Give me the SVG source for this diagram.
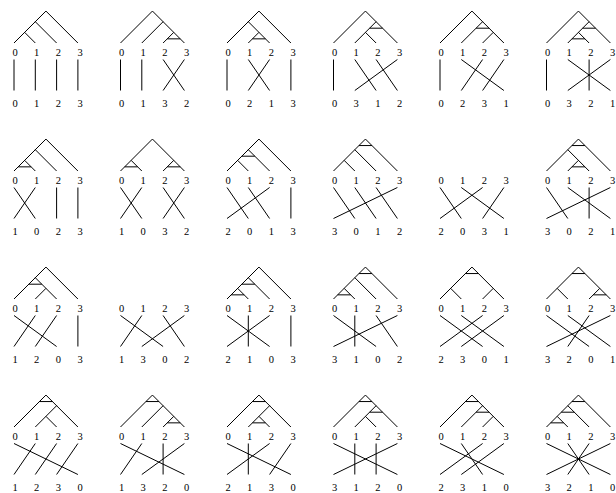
<svg xmlns="http://www.w3.org/2000/svg" width="616" height="493" viewBox="0 0 616 493">
<style>
.t{fill:none;stroke:#000;stroke-width:1}
text{font-family:"Liberation Serif",serif;font-size:10.5px;text-anchor:middle;fill:#000}
</style>
<rect width="616" height="493" fill="#fff"/>
<g id="c0123" transform="translate(0,0)">
<path class="t" d="M45.95 11.05L14 43M45.95 11.05L77.9 43M35.3 21.7L56.6 43M24.65 32.35L35.3 43"/>
<path class="t" d="M14 59.5L14 90.5M35.3 59.5L35.3 90.5M56.6 59.5L56.6 90.5M77.9 59.5L77.9 90.5"/>
<text x="15" y="55.5">0</text><text x="36.7" y="55.5">1</text><text x="58.3" y="55.5">2</text><text x="80" y="55.5">3</text>
<text x="15" y="107">0</text><text x="36.7" y="107">1</text><text x="58.3" y="107">2</text><text x="80" y="107">3</text>
</g>
<g id="c0132" transform="translate(106.5,0)">
<path class="t" d="M45.95 11.05L14 43M45.95 11.05L77.9 43M56.6 21.7L35.3 43M67.25 32.35L56.6 43"/>
<path class="t" d="M60.75 38.85H73.75"/>
<path class="t" d="M14 59.5L14 90.5M35.3 59.5L35.3 90.5M56.6 59.5L77.9 90.5M77.9 59.5L56.6 90.5"/>
<text x="15" y="55.5">0</text><text x="36.7" y="55.5">1</text><text x="58.3" y="55.5">2</text><text x="80" y="55.5">3</text>
<text x="15" y="107">0</text><text x="36.7" y="107">1</text><text x="58.3" y="107">3</text><text x="80" y="107">2</text>
</g>
<g id="c0213" transform="translate(213,0)">
<path class="t" d="M45.95 11.05L14 43M45.95 11.05L77.9 43M35.3 21.7L56.6 43M45.95 32.35L35.3 43"/>
<path class="t" d="M39.45 38.85H52.45"/>
<path class="t" d="M14 59.5L14 90.5M35.3 59.5L56.6 90.5M56.6 59.5L35.3 90.5M77.9 59.5L77.9 90.5"/>
<text x="15" y="55.5">0</text><text x="36.7" y="55.5">1</text><text x="58.3" y="55.5">2</text><text x="80" y="55.5">3</text>
<text x="15" y="107">0</text><text x="36.7" y="107">2</text><text x="58.3" y="107">1</text><text x="80" y="107">3</text>
</g>
<g id="c0312" transform="translate(319.5,0)">
<path class="t" d="M45.95 11.05L14 43M45.95 11.05L77.9 43M56.6 21.7L35.3 43M45.95 32.35L56.6 43"/>
<path class="t" d="M50.1 28.2H63.1"/>
<path class="t" d="M14 59.5L14 90.5M35.3 59.5L56.6 90.5M56.6 59.5L77.9 90.5M77.9 59.5L35.3 90.5"/>
<text x="15" y="55.5">0</text><text x="36.7" y="55.5">1</text><text x="58.3" y="55.5">2</text><text x="80" y="55.5">3</text>
<text x="15" y="107">0</text><text x="36.7" y="107">3</text><text x="58.3" y="107">1</text><text x="80" y="107">2</text>
</g>
<g id="c0231" transform="translate(426,0)">
<path class="t" d="M45.95 11.05L14 43M45.95 11.05L77.9 43M56.6 21.7L35.3 43M67.25 32.35L56.6 43"/>
<path class="t" d="M50.1 28.2H63.1"/>
<path class="t" d="M14 59.5L14 90.5M35.3 59.5L77.9 90.5M56.6 59.5L35.3 90.5M77.9 59.5L56.6 90.5"/>
<text x="15" y="55.5">0</text><text x="36.7" y="55.5">1</text><text x="58.3" y="55.5">2</text><text x="80" y="55.5">3</text>
<text x="15" y="107">0</text><text x="36.7" y="107">2</text><text x="58.3" y="107">3</text><text x="80" y="107">1</text>
</g>
<g id="c0321" transform="translate(532.5,0)">
<path class="t" d="M45.95 11.05L14 43M45.95 11.05L77.9 43M56.6 21.7L35.3 43M45.95 32.35L56.6 43"/>
<path class="t" d="M50.1 28.2H63.1M39.45 38.85H52.45"/>
<path class="t" d="M14 59.5L14 90.5M35.3 59.5L77.9 90.5M56.6 59.5L56.6 90.5M77.9 59.5L35.3 90.5"/>
<text x="15" y="55.5">0</text><text x="36.7" y="55.5">1</text><text x="58.3" y="55.5">2</text><text x="80" y="55.5">3</text>
<text x="15" y="107">0</text><text x="36.7" y="107">3</text><text x="58.3" y="107">2</text><text x="80" y="107">1</text>
</g>
<g id="c1023" transform="translate(0,128)">
<path class="t" d="M45.95 11.05L14 43M45.95 11.05L77.9 43M35.3 21.7L56.6 43M24.65 32.35L35.3 43"/>
<path class="t" d="M18.15 38.85H31.15"/>
<path class="t" d="M14 59.5L35.3 90.5M35.3 59.5L14 90.5M56.6 59.5L56.6 90.5M77.9 59.5L77.9 90.5"/>
<text x="15" y="55.5">0</text><text x="36.7" y="55.5">1</text><text x="58.3" y="55.5">2</text><text x="80" y="55.5">3</text>
<text x="15" y="107">1</text><text x="36.7" y="107">0</text><text x="58.3" y="107">2</text><text x="80" y="107">3</text>
</g>
<g id="c1032" transform="translate(106.5,128)">
<path class="t" d="M45.95 11.05L14 43M45.95 11.05L77.9 43M24.65 32.35L35.3 43M67.25 32.35L56.6 43"/>
<path class="t" d="M18.15 38.85H31.15M60.75 38.85H73.75"/>
<path class="t" d="M14 59.5L35.3 90.5M35.3 59.5L14 90.5M56.6 59.5L77.9 90.5M77.9 59.5L56.6 90.5"/>
<text x="15" y="55.5">0</text><text x="36.7" y="55.5">1</text><text x="58.3" y="55.5">2</text><text x="80" y="55.5">3</text>
<text x="15" y="107">1</text><text x="36.7" y="107">0</text><text x="58.3" y="107">3</text><text x="80" y="107">2</text>
</g>
<g id="c2013" transform="translate(213,128)">
<path class="t" d="M45.95 11.05L14 43M45.95 11.05L77.9 43M35.3 21.7L56.6 43M24.65 32.35L35.3 43"/>
<path class="t" d="M28.8 28.2H41.8"/>
<path class="t" d="M14 59.5L35.3 90.5M35.3 59.5L56.6 90.5M56.6 59.5L14 90.5M77.9 59.5L77.9 90.5"/>
<text x="15" y="55.5">0</text><text x="36.7" y="55.5">1</text><text x="58.3" y="55.5">2</text><text x="80" y="55.5">3</text>
<text x="15" y="107">2</text><text x="36.7" y="107">0</text><text x="58.3" y="107">1</text><text x="80" y="107">3</text>
</g>
<g id="c3012" transform="translate(319.5,128)">
<path class="t" d="M45.95 11.05L14 43M45.95 11.05L77.9 43M35.3 21.7L56.6 43M24.65 32.35L35.3 43"/>
<path class="t" d="M39.45 17.55H52.45"/>
<path class="t" d="M14 59.5L35.3 90.5M35.3 59.5L56.6 90.5M56.6 59.5L77.9 90.5M77.9 59.5L14 90.5"/>
<text x="15" y="55.5">0</text><text x="36.7" y="55.5">1</text><text x="58.3" y="55.5">2</text><text x="80" y="55.5">3</text>
<text x="15" y="107">3</text><text x="36.7" y="107">0</text><text x="58.3" y="107">1</text><text x="80" y="107">2</text>
</g>
<g id="c2031" transform="translate(426,128)">
<path class="t" d="M14 59.5L35.3 90.5M35.3 59.5L77.9 90.5M56.6 59.5L14 90.5M77.9 59.5L56.6 90.5"/>
<text x="15" y="55.5">0</text><text x="36.7" y="55.5">1</text><text x="58.3" y="55.5">2</text><text x="80" y="55.5">3</text>
<text x="15" y="107">2</text><text x="36.7" y="107">0</text><text x="58.3" y="107">3</text><text x="80" y="107">1</text>
</g>
<g id="c3021" transform="translate(532.5,128)">
<path class="t" d="M45.95 11.05L14 43M45.95 11.05L77.9 43M35.3 21.7L56.6 43M45.95 32.35L35.3 43"/>
<path class="t" d="M39.45 17.55H52.45M39.45 38.85H52.45"/>
<path class="t" d="M14 59.5L35.3 90.5M35.3 59.5L77.9 90.5M56.6 59.5L56.6 90.5M77.9 59.5L14 90.5"/>
<text x="15" y="55.5">0</text><text x="36.7" y="55.5">1</text><text x="58.3" y="55.5">2</text><text x="80" y="55.5">3</text>
<text x="15" y="107">3</text><text x="36.7" y="107">0</text><text x="58.3" y="107">2</text><text x="80" y="107">1</text>
</g>
<g id="c1203" transform="translate(0,256)">
<path class="t" d="M45.95 11.05L14 43M45.95 11.05L77.9 43M35.3 21.7L56.6 43M45.95 32.35L35.3 43"/>
<path class="t" d="M28.8 28.2H41.8"/>
<path class="t" d="M14 59.5L56.6 90.5M35.3 59.5L14 90.5M56.6 59.5L35.3 90.5M77.9 59.5L77.9 90.5"/>
<text x="15" y="55.5">0</text><text x="36.7" y="55.5">1</text><text x="58.3" y="55.5">2</text><text x="80" y="55.5">3</text>
<text x="15" y="107">1</text><text x="36.7" y="107">2</text><text x="58.3" y="107">0</text><text x="80" y="107">3</text>
</g>
<g id="c1302" transform="translate(106.5,256)">
<path class="t" d="M14 59.5L56.6 90.5M35.3 59.5L14 90.5M56.6 59.5L77.9 90.5M77.9 59.5L35.3 90.5"/>
<text x="15" y="55.5">0</text><text x="36.7" y="55.5">1</text><text x="58.3" y="55.5">2</text><text x="80" y="55.5">3</text>
<text x="15" y="107">1</text><text x="36.7" y="107">3</text><text x="58.3" y="107">0</text><text x="80" y="107">2</text>
</g>
<g id="c2103" transform="translate(213,256)">
<path class="t" d="M45.95 11.05L14 43M45.95 11.05L77.9 43M35.3 21.7L56.6 43M24.65 32.35L35.3 43"/>
<path class="t" d="M28.8 28.2H41.8M18.15 38.85H31.15"/>
<path class="t" d="M14 59.5L56.6 90.5M35.3 59.5L35.3 90.5M56.6 59.5L14 90.5M77.9 59.5L77.9 90.5"/>
<text x="15" y="55.5">0</text><text x="36.7" y="55.5">1</text><text x="58.3" y="55.5">2</text><text x="80" y="55.5">3</text>
<text x="15" y="107">2</text><text x="36.7" y="107">1</text><text x="58.3" y="107">0</text><text x="80" y="107">3</text>
</g>
<g id="c3102" transform="translate(319.5,256)">
<path class="t" d="M45.95 11.05L14 43M45.95 11.05L77.9 43M35.3 21.7L56.6 43M24.65 32.35L35.3 43"/>
<path class="t" d="M39.45 17.55H52.45M18.15 38.85H31.15"/>
<path class="t" d="M14 59.5L56.6 90.5M35.3 59.5L35.3 90.5M56.6 59.5L77.9 90.5M77.9 59.5L14 90.5"/>
<text x="15" y="55.5">0</text><text x="36.7" y="55.5">1</text><text x="58.3" y="55.5">2</text><text x="80" y="55.5">3</text>
<text x="15" y="107">3</text><text x="36.7" y="107">1</text><text x="58.3" y="107">0</text><text x="80" y="107">2</text>
</g>
<g id="c2301" transform="translate(426,256)">
<path class="t" d="M45.95 11.05L14 43M45.95 11.05L77.9 43M24.65 32.35L35.3 43M67.25 32.35L56.6 43"/>
<path class="t" d="M39.45 17.55H52.45"/>
<path class="t" d="M14 59.5L56.6 90.5M35.3 59.5L77.9 90.5M56.6 59.5L14 90.5M77.9 59.5L35.3 90.5"/>
<text x="15" y="55.5">0</text><text x="36.7" y="55.5">1</text><text x="58.3" y="55.5">2</text><text x="80" y="55.5">3</text>
<text x="15" y="107">2</text><text x="36.7" y="107">3</text><text x="58.3" y="107">0</text><text x="80" y="107">1</text>
</g>
<g id="c3201" transform="translate(532.5,256)">
<path class="t" d="M45.95 11.05L14 43M45.95 11.05L77.9 43M24.65 32.35L35.3 43M67.25 32.35L56.6 43"/>
<path class="t" d="M39.45 17.55H52.45M60.75 38.85H73.75"/>
<path class="t" d="M14 59.5L56.6 90.5M35.3 59.5L77.9 90.5M56.6 59.5L35.3 90.5M77.9 59.5L14 90.5"/>
<text x="15" y="55.5">0</text><text x="36.7" y="55.5">1</text><text x="58.3" y="55.5">2</text><text x="80" y="55.5">3</text>
<text x="15" y="107">3</text><text x="36.7" y="107">2</text><text x="58.3" y="107">0</text><text x="80" y="107">1</text>
</g>
<g id="c1230" transform="translate(0,384)">
<path class="t" d="M45.95 11.05L14 43M45.95 11.05L77.9 43M56.6 21.7L35.3 43M45.95 32.35L56.6 43"/>
<path class="t" d="M39.45 17.55H52.45"/>
<path class="t" d="M14 59.5L77.9 90.5M35.3 59.5L14 90.5M56.6 59.5L35.3 90.5M77.9 59.5L56.6 90.5"/>
<text x="15" y="55.5">0</text><text x="36.7" y="55.5">1</text><text x="58.3" y="55.5">2</text><text x="80" y="55.5">3</text>
<text x="15" y="107">1</text><text x="36.7" y="107">2</text><text x="58.3" y="107">3</text><text x="80" y="107">0</text>
</g>
<g id="c1320" transform="translate(106.5,384)">
<path class="t" d="M45.95 11.05L14 43M45.95 11.05L77.9 43M56.6 21.7L35.3 43M67.25 32.35L56.6 43"/>
<path class="t" d="M39.45 17.55H52.45M60.75 38.85H73.75"/>
<path class="t" d="M14 59.5L77.9 90.5M35.3 59.5L14 90.5M56.6 59.5L56.6 90.5M77.9 59.5L35.3 90.5"/>
<text x="15" y="55.5">0</text><text x="36.7" y="55.5">1</text><text x="58.3" y="55.5">2</text><text x="80" y="55.5">3</text>
<text x="15" y="107">1</text><text x="36.7" y="107">3</text><text x="58.3" y="107">2</text><text x="80" y="107">0</text>
</g>
<g id="c2130" transform="translate(213,384)">
<path class="t" d="M45.95 11.05L14 43M45.95 11.05L77.9 43M56.6 21.7L35.3 43M45.95 32.35L56.6 43"/>
<path class="t" d="M39.45 17.55H52.45M39.45 38.85H52.45"/>
<path class="t" d="M14 59.5L77.9 90.5M35.3 59.5L35.3 90.5M56.6 59.5L14 90.5M77.9 59.5L56.6 90.5"/>
<text x="15" y="55.5">0</text><text x="36.7" y="55.5">1</text><text x="58.3" y="55.5">2</text><text x="80" y="55.5">3</text>
<text x="15" y="107">2</text><text x="36.7" y="107">1</text><text x="58.3" y="107">3</text><text x="80" y="107">0</text>
</g>
<g id="c3120" transform="translate(319.5,384)">
<path class="t" d="M45.95 11.05L14 43M45.95 11.05L77.9 43M56.6 21.7L35.3 43M45.95 32.35L56.6 43"/>
<path class="t" d="M39.45 17.55H52.45M50.1 28.2H63.1"/>
<path class="t" d="M14 59.5L77.9 90.5M35.3 59.5L35.3 90.5M56.6 59.5L56.6 90.5M77.9 59.5L14 90.5"/>
<text x="15" y="55.5">0</text><text x="36.7" y="55.5">1</text><text x="58.3" y="55.5">2</text><text x="80" y="55.5">3</text>
<text x="15" y="107">3</text><text x="36.7" y="107">1</text><text x="58.3" y="107">2</text><text x="80" y="107">0</text>
</g>
<g id="c2310" transform="translate(426,384)">
<path class="t" d="M45.95 11.05L14 43M45.95 11.05L77.9 43M56.6 21.7L35.3 43M67.25 32.35L56.6 43"/>
<path class="t" d="M39.45 17.55H52.45M50.1 28.2H63.1"/>
<path class="t" d="M14 59.5L77.9 90.5M35.3 59.5L56.6 90.5M56.6 59.5L14 90.5M77.9 59.5L35.3 90.5"/>
<text x="15" y="55.5">0</text><text x="36.7" y="55.5">1</text><text x="58.3" y="55.5">2</text><text x="80" y="55.5">3</text>
<text x="15" y="107">2</text><text x="36.7" y="107">3</text><text x="58.3" y="107">1</text><text x="80" y="107">0</text>
</g>
<g id="c3210" transform="translate(532.5,384)">
<path class="t" d="M45.95 11.05L14 43M45.95 11.05L77.9 43M35.3 21.7L56.6 43M24.65 32.35L35.3 43"/>
<path class="t" d="M39.45 17.55H52.45M28.8 28.2H41.8M18.15 38.85H31.15"/>
<path class="t" d="M14 59.5L77.9 90.5M35.3 59.5L56.6 90.5M56.6 59.5L35.3 90.5M77.9 59.5L14 90.5"/>
<text x="15" y="55.5">0</text><text x="36.7" y="55.5">1</text><text x="58.3" y="55.5">2</text><text x="80" y="55.5">3</text>
<text x="15" y="107">3</text><text x="36.7" y="107">2</text><text x="58.3" y="107">1</text><text x="80" y="107">0</text>
</g>
</svg>
